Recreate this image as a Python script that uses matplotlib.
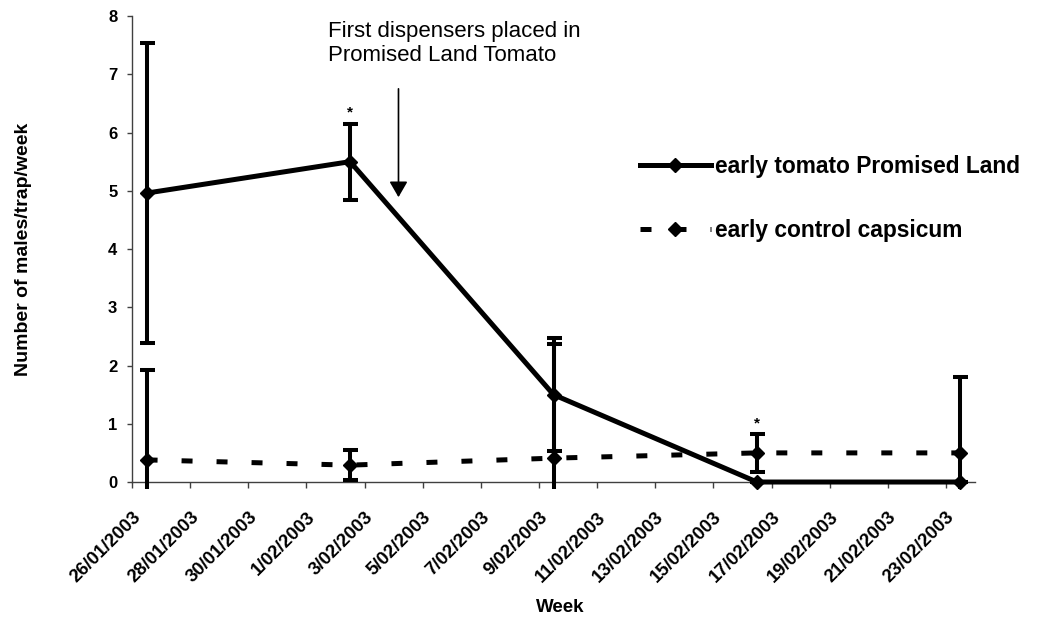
import datetime
import pandas as pd
import matplotlib
matplotlib.use('Agg')
import matplotlib.pyplot as plt

plt.rcParams['font.family'] = ['Liberation Sans', 'DejaVu Sans']

sample_dates = ["2003-01-26", "2003-02-02", "2003-02-09", "2003-02-16", "2003-02-23"]
tomato_mean = [4.96, 5.50, 1.50, 0.0, 0.0]
tomato_err = [2.57, 0.65, 0.97, 0.0, 0.0]
capsicum_mean = [0.38, 0.29, 0.41, 0.50, 0.50]
capsicum_err = [1.55, 0.26, 1.96, 0.32, 1.31]
# asterisks: (series, week index)
sig_marks = [("tomato", 1), ("capsicum", 3)]

tomato_label = "early tomato Promised Land"
capsicum_label = "early control capsicum"
note_text = "First dispensers placed in\nPromised Land Tomato"
note_date = "2003-02-04 04:00"

x = pd.to_datetime(sample_dates) + pd.Timedelta(hours=12)
tick_dates = pd.date_range("2003-01-26", "2003-02-23", freq="2D")
tick_labels = ["%d/%02d/%d" % (d.day, d.month, d.year) for d in tick_dates]

fig = plt.figure(figsize=(10.38, 6.19), dpi=100)
ax = fig.add_axes([0.1272, 0.2100, 0.8121, 0.7641])

ax.errorbar(x, tomato_mean, yerr=tomato_err, fmt='none', ecolor='black',
            elinewidth=2.9, capsize=5.4, capthick=2.9, zorder=3)
ax.errorbar(x, capsicum_mean, yerr=capsicum_err, fmt='none', ecolor='black',
            elinewidth=2.9, capsize=5.4, capthick=2.9, zorder=3)
ax.plot(x, tomato_mean, color='black', lw=3.6, marker='D', ms=7,
        label=tomato_label, zorder=4)
ax.plot(x, capsicum_mean, color='black', lw=3.6, ls=(0, (2.2, 4.8)),
        marker='D', ms=7, label=capsicum_label, zorder=4)

series = {"tomato": (tomato_mean, tomato_err), "capsicum": (capsicum_mean, capsicum_err)}
for name, i in sig_marks:
    m, e = series[name]
    ax.annotate("*", xy=(x[i], m[i] + e[i]), xytext=(0, 3), textcoords='offset points',
                ha='center', va='bottom', fontsize=11, fontweight='bold')

nd = pd.Timestamp(note_date)
ax.annotate("", xy=(nd, 4.89), xytext=(nd, 6.75),
            arrowprops=dict(arrowstyle='-|>,head_length=0.95,head_width=0.55',
                            mutation_scale=10, lw=1.2, color='black',
                            shrinkA=0, shrinkB=0))
ax.text(0.2325, 0.99, note_text, transform=ax.transAxes, ha='left', va='top',
        fontsize=16, linespacing=1.2)

ax.set_xlim(datetime.datetime(2003, 1, 26), datetime.datetime(2003, 2, 24))
ax.set_ylim(-0.12, 8)
ax.set_yticks(range(0, 9))
ax.set_xticks(tick_dates)
ax.set_xticklabels(tick_labels)

ax.spines['top'].set_visible(False)
ax.spines['right'].set_visible(False)
ax.spines['bottom'].set_position(('data', 0))
ax.spines['left'].set_bounds(0, 8)
for s in ['left', 'bottom']:
    ax.spines[s].set_color('#404040')
    ax.spines[s].set_linewidth(1)
ax.tick_params(axis='x', direction='out', length=4.3, width=1, color='#404040', pad=15)
ax.tick_params(axis='y', direction='out', length=3.6, width=1, color='#404040', pad=7)

for lab in ax.get_xticklabels():
    lab.set_rotation(45)
    lab.set_rotation_mode('anchor')
    lab.set_ha('right')
    lab.set_va('top')
    lab.set_fontsize(13.3)
    lab.set_fontweight('bold')
for lab in ax.get_yticklabels():
    lab.set_fontsize(12)
    lab.set_fontweight('bold')

ax.set_ylabel("Number of males/trap/week", fontsize=14, fontweight='bold')
ax.yaxis.set_label_coords(-0.119, 0.5 + 0.12 / 8.12 / 2)
fig.text(560 / 1038, 1 - 608 / 619, "Week", ha='center', va='center',
         fontsize=13.5, fontweight='bold')

fig.legend(loc='upper left', bbox_to_anchor=(640 / 1038, 1 - 155 / 619),
           frameon=False, borderaxespad=0, borderpad=0, handlelength=3.1,
           handletextpad=0.18, labelspacing=1.78, numpoints=1,
           prop={'size': 16.4, 'weight': 'bold'})

plt.savefig("out.png", dpi=100)
